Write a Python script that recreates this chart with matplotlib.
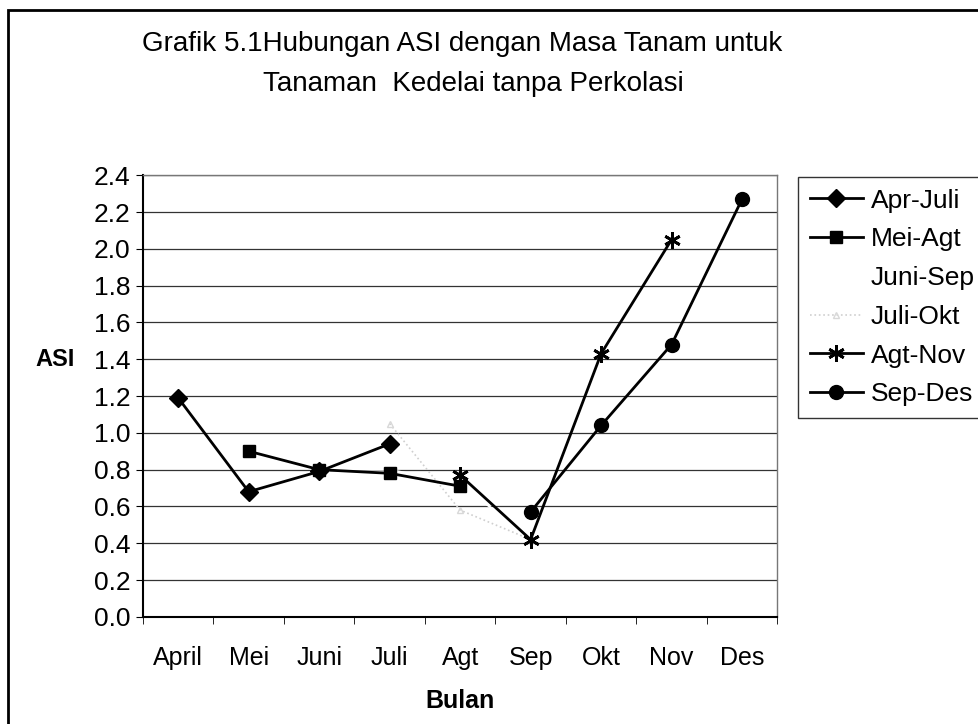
import numpy as np
import matplotlib
matplotlib.use("Agg")
import matplotlib.pyplot as plt
from matplotlib.patches import Rectangle

plt.rcParams['font.family'] = ['Liberation Sans', 'DejaVu Sans']

# months on the x axis
months = ['April', 'Mei', 'Juni', 'Juli', 'Agt', 'Sep', 'Okt', 'Nov', 'Des']

# ASI values per planting period (None = no value in that month)
apr_juli = [1.19, 0.68, 0.79, 0.94, None, None, None, None, None]
mei_agt = [None, 0.90, 0.80, 0.78, 0.71, None, None, None, None]
juni_sep = [None, None, 0.80, 0.80, 0.72, 0.43, None, None, None]
juli_okt = [None, None, None, 1.05, 0.58, 0.42, None, None, None]
agt_nov = [None, None, None, None, 0.77, 0.42, 1.43, 2.05, None]
sep_des = [None, None, None, None, None, 0.57, 1.04, 1.48, 2.27]

y_ticks = [0.0, 0.2, 0.4, 0.6, 0.8, 1.0, 1.2, 1.4, 1.6, 1.8, 2.0, 2.2, 2.4]


def to_arr(vals):
    return np.array([np.nan if v is None else v for v in vals], dtype=float)


fig = plt.figure(figsize=(9.79, 7.24), dpi=100)
ax = fig.add_axes([0.146, 0.148, 0.648, 0.610])

x = np.arange(len(months))

# faint / invisible series first
ax.plot(x, to_arr(juni_sep), color='white', lw=1.5, label='Juni-Sep', zorder=1)
ax.plot(x, to_arr(juli_okt), color='#cfcfcf', lw=1.2, ls=':', marker='^',
        ms=4, mfc='none', mec='#d8d8d8', label='Juli-Okt', zorder=2)

ax.plot(x, to_arr(apr_juli), color='black', lw=2, marker='D', ms=9,
        label='Apr-Juli', zorder=4)
ax.plot(x, to_arr(mei_agt), color='black', lw=2, marker='s', ms=9,
        label='Mei-Agt', zorder=4)
ax.plot(x, to_arr(agt_nov), color='black', lw=2, marker=(6, 2, 0), ms=12,
        mew=2, label='Agt-Nov', zorder=4)
ax.plot(x, to_arr(sep_des), color='black', lw=2, marker='o', ms=10,
        label='Sep-Des', zorder=4)

ax.set_xlim(-0.5, len(months) - 0.5)
ax.set_ylim(0, 2.4)
ax.set_yticks(y_ticks)
ax.set_yticklabels([f'{v:.1f}' for v in y_ticks], fontsize=19)
ax.set_xticks(x)
ax.set_xticklabels(months, fontsize=18)
ax.set_xticks(np.arange(-0.5, len(months), 1), minor=True)
ax.tick_params(axis='x', which='major', length=0, pad=21)
ax.tick_params(axis='x', which='minor', length=5, direction='out')
ax.tick_params(axis='y', length=5, direction='out', pad=4)

ax.yaxis.grid(True, color='#333333', lw=0.9)
ax.set_axisbelow(True)

for side in ['top', 'right']:
    ax.spines[side].set_color('#777777')
    ax.spines[side].set_linestyle((0, (2, 1)))
    ax.spines[side].set_linewidth(1)
ax.spines['left'].set_linewidth(1.5)
ax.spines['bottom'].set_linewidth(1.5)

ax.set_xlabel('Bulan', fontsize=18, fontweight='bold', labelpad=14)
ax.set_ylabel('ASI', fontsize=17, fontweight='bold', rotation=0,
              ha='center', va='center')
ax.yaxis.set_label_coords(-0.138, 1.4 / 2.4)

fig.text(0.472, 0.939, 'Grafik 5.1Hubungan ASI dengan Masa Tanam untuk',
         ha='center', va='center', fontsize=20)
fig.text(0.484, 0.884, 'Tanaman  Kedelai tanpa Perkolasi',
         ha='center', va='center', fontsize=20)

handles, labels = ax.get_legend_handles_labels()
order = ['Apr-Juli', 'Mei-Agt', 'Juni-Sep', 'Juli-Okt', 'Agt-Nov', 'Sep-Des']
hmap = dict(zip(labels, handles))
leg = fig.legend([hmap[k] for k in order], order, loc='upper left',
                 bbox_to_anchor=(0.815, 0.756), fontsize=19, frameon=True,
                 fancybox=False, edgecolor='black', handlelength=2.0,
                 handletextpad=0.3, borderpad=0.45, labelspacing=0.56,
                 borderaxespad=0)
leg.get_frame().set_linewidth(1)

# outer chart border
fig.patches.append(Rectangle((0.008, -0.05), 1.2, 1.036, transform=fig.transFigure,
                             fill=False, edgecolor='black', lw=2))

fig.savefig('out.png', dpi=100)
